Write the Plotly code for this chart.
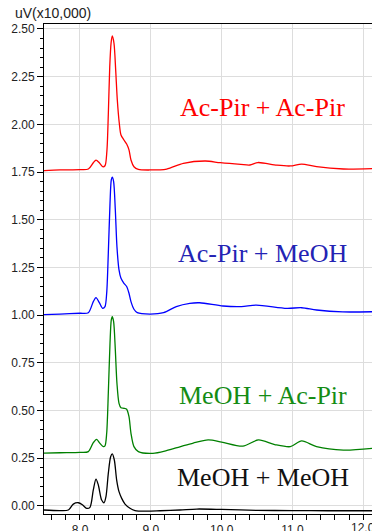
import plotly.graph_objects as go

# Retention time (min) and detector response (uV x 10,000) for each injection
t_acpir_acpir = [7.492, 7.718, 8.00, 8.118, 8.188, 8.226, 8.273, 8.320, 8.353, 8.380, 8.400, 8.420,
                 8.440, 8.456, 8.480, 8.504, 8.527, 8.555, 8.579, 8.621, 8.659, 8.692, 8.720, 8.762,
                 8.824, 8.988, 9.224, 9.46, 9.77, 9.98, 10.27, 10.40, 10.51, 10.78, 10.97, 11.13,
                 11.34, 11.72, 12.123]
v_acpir_acpir = [1.758, 1.761, 1.763, 1.766, 1.799, 1.813, 1.799, 1.778, 1.783, 1.860, 2.050, 2.300,
                 2.430, 2.463, 2.425, 2.285, 2.128, 2.006, 1.944, 1.918, 1.897, 1.866, 1.813, 1.778,
                 1.764, 1.761, 1.766, 1.796, 1.808, 1.799, 1.790, 1.787, 1.800, 1.786, 1.782, 1.792,
                 1.778, 1.766, 1.768]

t_acpir_meoh = [7.492, 7.718, 8.00, 8.118, 8.188, 8.226, 8.273, 8.320, 8.353, 8.377, 8.400, 8.424,
                8.442, 8.456, 8.475, 8.499, 8.522, 8.551, 8.579, 8.621, 8.659, 8.692, 8.720, 8.762,
                8.809, 8.988, 9.18, 9.36, 9.55, 9.69, 10.02, 10.28, 10.49, 10.92, 11.13, 11.34,
                11.71, 12.123]
v_acpir_meoh = [1.003, 1.006, 1.010, 1.013, 1.071, 1.092, 1.066, 1.036, 1.045, 1.115, 1.324, 1.586,
                1.709, 1.723, 1.700, 1.551, 1.359, 1.237, 1.193, 1.167, 1.150, 1.115, 1.071, 1.031,
                1.013, 1.006, 1.013, 1.045, 1.062, 1.065, 1.048, 1.045, 1.053, 1.036, 1.039, 1.027,
                1.017, 1.018]

t_meoh_acpir = [7.492, 7.718, 8.00, 8.118, 8.188, 8.235, 8.282, 8.330, 8.353, 8.377, 8.400, 8.424,
                8.442, 8.456, 8.475, 8.499, 8.522, 8.551, 8.579, 8.621, 8.659, 8.692, 8.720, 8.762,
                8.824, 9.03, 9.22, 9.41, 9.60, 9.81, 10.00, 10.30, 10.52, 10.75, 10.97, 11.13,
                11.34, 11.72, 12.123]
v_meoh_acpir = [0.277, 0.279, 0.281, 0.285, 0.332, 0.349, 0.328, 0.311, 0.315, 0.381, 0.591, 0.853,
                0.975, 0.992, 0.966, 0.818, 0.643, 0.538, 0.515, 0.512, 0.507, 0.468, 0.381, 0.311,
                0.285, 0.276, 0.290, 0.310, 0.330, 0.346, 0.335, 0.314, 0.346, 0.322, 0.311, 0.341,
                0.311, 0.293, 0.302]

t_meoh_meoh = [7.492, 7.718, 7.835, 7.906, 7.977, 8.038, 8.094, 8.141, 8.188, 8.226, 8.259, 8.306,
               8.339, 8.367, 8.400, 8.433, 8.456, 8.485, 8.518, 8.551, 8.589, 8.636, 8.706, 8.777,
               8.942, 9.130, 9.412, 9.65, 10.0, 10.5, 11.0, 11.5, 12.123]
v_meoh_meoh = [-0.021, -0.024, -0.021, 0.010, 0.017, 0.005, -0.012, -0.007, 0.084, 0.141, 0.110, 0.031,
               0.017, 0.049, 0.171, 0.258, 0.273, 0.241, 0.136, 0.075, 0.040, 0.010, -0.012, -0.024,
               -0.027, -0.025, -0.021, -0.016, -0.018, -0.023, -0.024, -0.025, -0.025]

series_names = ["Ac-Pir + Ac-Pir", "Ac-Pir + MeOH", "MeOH + Ac-Pir", "MeOH + MeOH"]
series_t = [t_acpir_acpir, t_acpir_meoh, t_meoh_acpir, t_meoh_meoh]
series_v = [v_acpir_acpir, v_acpir_meoh, v_meoh_acpir, v_meoh_meoh]
line_colors = ["#ff0000", "#0000ff", "#008000", "#000000"]
label_colors = ["#ff0000", "#2323b4", "#148c14", "#111111"]
label_x = [10.58, 10.58, 10.58, 10.58]
label_y = [2.091, 1.321, 0.577, 0.150]

# the last major tick sits at the right edge of the plot
edge_tick = 12.0

fig = go.Figure()
for name, t, v, c in zip(series_names, series_t, series_v, line_colors):
    fig.add_trace(go.Scatter(x=t, y=v, mode="lines", name=name,
                             line=dict(color=c, width=1.3, shape="spline", smoothing=0.8)))

for name, x, y, c in zip(series_names, label_x, label_y, label_colors):
    fig.add_annotation(x=x, y=y, text=name, showarrow=False, xanchor="center", yanchor="middle",
                       font=dict(family="Liberation Serif", size=26, color=c))

tick_font = dict(family="Liberation Sans", size=12, color="#222222")

fig.add_annotation(xref="paper", yref="paper", x=-0.0945, y=1, xanchor="left", yanchor="bottom",
                   yshift=1, text="uV(x10,000)", showarrow=False,
                   font=dict(family="Liberation Sans", size=14, color="#222222"))

fig.add_annotation(xref="x", yref="paper", x=edge_tick, y=0, xanchor="center", yanchor="top",
                   yshift=-5, text=f"{edge_tick:.1f}", showarrow=False, font=tick_font)

fig.update_layout(
    width=372, height=531,
    margin=dict(l=44, r=0, t=24, b=17),
    plot_bgcolor="white", paper_bgcolor="white",
    showlegend=False,
    xaxis=dict(range=[7.492, 12.123], dtick=1, tick0=8, tickformat=".1f", automargin=False,
               showline=True, linecolor="black", linewidth=1, mirror=True,
               ticks="outside", ticklen=5, tickcolor="black",
               showgrid=True, gridcolor="#dddddd", gridwidth=1, zeroline=False,
               tickfont=tick_font,
               minor=dict(dtick=0.2, tick0=8, ticks="outside", ticklen=5, tickcolor="black", showgrid=False)),
    yaxis=dict(range=[-0.042, 2.526], dtick=0.25, tick0=0, tickformat=".2f", automargin=False,
               showline=True, linecolor="black", linewidth=1,
               ticks="outside", ticklen=6, tickcolor="black",
               showgrid=True, gridcolor="#dddddd", gridwidth=1, zeroline=False,
               tickfont=tick_font,
               minor=dict(dtick=0.05, tick0=0, ticks="outside", ticklen=3, tickcolor="black", showgrid=False)),
)

fig.write_html("out.html")
